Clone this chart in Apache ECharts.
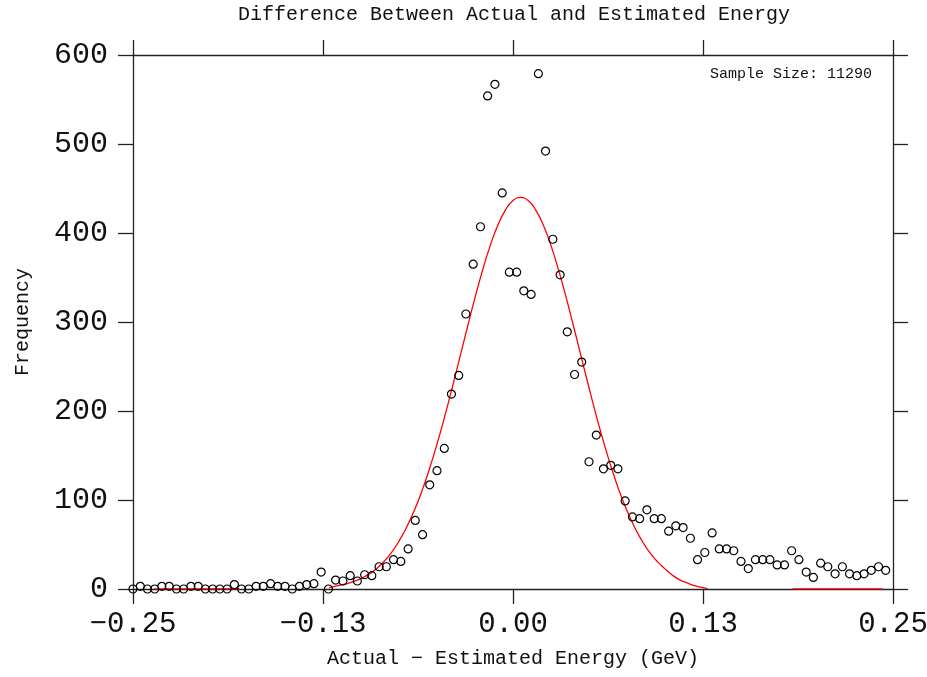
<!DOCTYPE html>
<html>
<head>
<meta charset="utf-8">
<script src="https://cdn.jsdelivr.net/npm/echarts@6/dist/echarts.min.js"></script>
<style>
  html, body { margin: 0; padding: 0; background: #fff; }
  #chart { width: 927px; height: 677px; }
</style>
</head>
<body>
<div id="chart"></div>
<script>
// histogram bins (left edge, GeV) and counts
const binX = [
  -0.2500, -0.2452, -0.2405, -0.2357, -0.2310, -0.2262, -0.2214, -0.2167, -0.2119, -0.2071,
  -0.2024, -0.1976, -0.1929, -0.1881, -0.1833, -0.1786, -0.1738, -0.1690, -0.1643, -0.1595,
  -0.1548, -0.1500, -0.1452, -0.1405, -0.1357, -0.1310, -0.1262, -0.1214, -0.1167, -0.1119,
  -0.1071, -0.1024, -0.0976, -0.0929, -0.0881, -0.0833, -0.0786, -0.0738, -0.0690, -0.0643,
  -0.0595, -0.0548, -0.0500, -0.0452, -0.0405, -0.0357, -0.0310, -0.0262, -0.0214, -0.0167,
  -0.0119, -0.0071, -0.0024, 0.0024, 0.0071, 0.0119, 0.0167, 0.0214, 0.0262, 0.0310,
  0.0357, 0.0405, 0.0452, 0.0500, 0.0548, 0.0595, 0.0643, 0.0690, 0.0738, 0.0786,
  0.0833, 0.0881, 0.0929, 0.0976, 0.1024, 0.1071, 0.1119, 0.1167, 0.1214, 0.1262,
  0.1310, 0.1357, 0.1405, 0.1452, 0.1500, 0.1548, 0.1595, 0.1643, 0.1690, 0.1738,
  0.1786, 0.1833, 0.1881, 0.1929, 0.1976, 0.2024, 0.2071, 0.2119, 0.2167, 0.2214,
  0.2262, 0.2310, 0.2357, 0.2405, 0.2452
];
const counts = [
  0, 3, 0, 0, 3, 3, 0, 0, 3, 3,
  0, 0, 0, 0, 5, 0, 0, 3, 3, 6,
  3, 3, 0, 3, 5, 6, 19, 0, 10, 9,
  15, 9, 16, 15, 25, 25, 33, 31, 45, 77,
  61, 117, 133, 158, 219, 240, 309, 365, 407, 554,
  567, 445, 356, 356, 335, 331, 579, 492, 393, 353,
  289, 241, 255, 143, 173, 135, 139, 135, 99, 81,
  79, 89, 79, 79, 65, 71, 69, 57, 33, 41,
  63, 45, 45, 43, 31, 23, 33, 33, 33, 27,
  27, 43, 33, 19, 13, 29, 25, 17, 25, 17,
  15, 17, 21, 25, 21
];

// fitted curve as drawn (null = where the red line is not visible)
const fitX = [
  -0.236, -0.180, -0.150,
  -0.121, -0.115, -0.110, -0.105, -0.100, -0.095, -0.090, -0.085, -0.080, -0.075,
  -0.070, -0.065, -0.060, -0.055, -0.050, -0.045, -0.040, -0.035, -0.030, -0.025,
  -0.020, -0.015, -0.010, -0.005, 0.000, 0.005, 0.010, 0.015, 0.020, 0.025,
  0.030, 0.035, 0.040, 0.045, 0.050, 0.055, 0.060, 0.065, 0.070, 0.075,
  0.080, 0.085, 0.090, 0.095, 0.100, 0.105, 0.110, 0.115, 0.120, 0.125, 0.128,
  0.155, 0.184, 0.243
];
const fitY = [
  0, 0, null,
  1.5, 3.9, 5.7, 8.2, 11.7, 16.4, 22.6, 30.7, 40.9, 53.7,
  69.3, 87.9, 109.7, 134.8, 162.8, 193.4, 226.1, 260.0, 294.1, 327.3,
  358.3, 385.8, 408.6, 425.8, 436.4, 440.0, 436.4, 425.8, 408.6, 385.8,
  358.3, 327.3, 294.1, 260.0, 226.1, 193.4, 162.8, 134.8, 109.7, 87.9,
  69.3, 53.7, 40.9, 30.7, 22.6, 15.5, 10.0, 6.5, 3.5, 1.5, 0.5,
  null, 0, 0
];

const xTicks = [-0.25, -0.125, 0, 0.125, 0.25];
const xTickLabels = ['\u22120.25', '\u22120.13', '0.00', '0.13', '0.25'];
const sampleSize = 11290;

const FONT = 'Liberation Mono';

const chart = echarts.init(document.getElementById('chart'));

const frameAxis = {
  type: 'value',
  min: -0.25,
  max: 0.25,
  interval: 0.125,
  splitLine: { show: false },
  axisLine: { show: true, onZero: false, lineStyle: { color: '#222', width: 1.3 } },
  axisTick: { show: true, length: 15, lineStyle: { color: '#222', width: 1.3 } }
};
const frameYAxis = {
  type: 'value',
  min: 0,
  max: 600,
  interval: 100,
  splitLine: { show: false },
  axisLine: { show: true, onZero: false, lineStyle: { color: '#222', width: 1.3 } },
  axisTick: { show: true, length: 15, lineStyle: { color: '#222', width: 1.3 } }
};

chart.setOption({
  animation: false,
  backgroundColor: '#fff',
  title: [
    {
      text: 'Difference Between Actual and Estimated Energy',
      left: 509,
      top: 0,
      textAlign: 'center',
      textStyle: { fontFamily: FONT, fontSize: 20, fontWeight: 'normal', color: '#111' }
    },
    {
      text: 'Sample Size: ' + sampleSize,
      right: 50,
      top: 62,
      textStyle: { fontFamily: FONT, fontSize: 15, fontWeight: 'normal', color: '#111' }
    }
  ],
  grid: { left: 133, right: 34, top: 55, bottom: 88, outerBoundsMode: 'none', containLabel: false },
  xAxis: [
    Object.assign({}, frameAxis, {
      position: 'bottom',
      name: 'Actual \u2212 Estimated Energy (GeV)',
      nameLocation: 'middle',
      nameGap: 60,
      nameTextStyle: { fontFamily: FONT, fontSize: 20, color: '#111' },
      axisLabel: {
        margin: 21,
        fontFamily: FONT,
        fontSize: 29,
        color: '#111',
        showMinLabel: true,
        showMaxLabel: true,
        formatter: (v) => {
          const i = xTicks.findIndex((t) => Math.abs(t - v) < 1e-6);
          return i >= 0 ? xTickLabels[i] : '';
        }
      }
    }),
    Object.assign({}, frameAxis, { position: 'top', axisLabel: { show: false } })
  ],
  yAxis: [
    Object.assign({}, frameYAxis, {
      position: 'left',
      name: 'Frequency',
      nameLocation: 'middle',
      nameGap: 100,
      nameRotate: 90,
      nameTextStyle: { fontFamily: FONT, fontSize: 20, color: '#111' },
      axisLabel: { margin: 25, fontFamily: FONT, fontSize: 30, color: '#111' }
    }),
    Object.assign({}, frameYAxis, { position: 'right', axisLabel: { show: false } })
  ],
  series: [
    {
      name: 'Fit',
      type: 'line',
      xAxisIndex: 0,
      yAxisIndex: 0,
      data: fitX.map((x, i) => [x, fitY[i] === null ? '-' : fitY[i]]),
      showSymbol: false,
      smooth: true,
      connectNulls: false,
      lineStyle: { color: '#ff0000', width: 1.3 },
      z: 3
    },
    {
      name: 'Counts',
      type: 'scatter',
      xAxisIndex: 0,
      yAxisIndex: 0,
      data: binX.map((x, i) => [x, counts[i]]),
      symbol: 'circle',
      symbolSize: 8,
      itemStyle: { color: 'rgba(0,0,0,0)', borderColor: '#000', borderWidth: 1.2, opacity: 1 },
      z: 4
    }
  ]
});
</script>
</body>
</html>
